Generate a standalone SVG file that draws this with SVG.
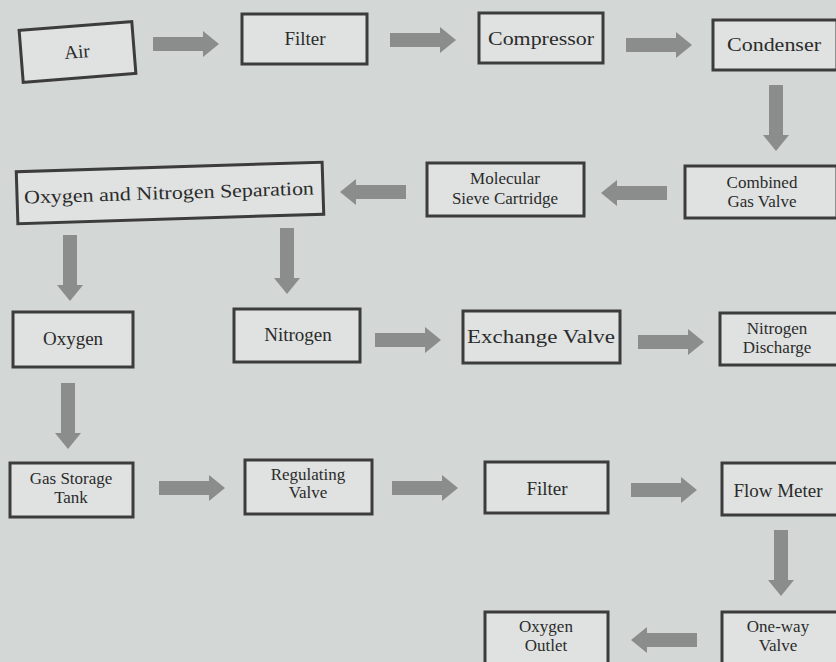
<svg xmlns="http://www.w3.org/2000/svg" width="836" height="662" viewBox="0 0 836 662">
<style>
.bg{fill:#d3d7d5}
.box{fill:#dfe2e1;stroke:#3c3c3c;stroke-width:3}
.t{font-family:"Liberation Serif","Times New Roman",serif;font-size:19px;fill:#2b2b2b;text-anchor:middle}
.t2{font-family:"Liberation Serif","Times New Roman",serif;font-size:17px;fill:#2b2b2b;text-anchor:middle}
.arr{fill:#8b8d8c}
</style>
<defs>
<path id="ar" class="arr" d="M0,-7 H50 V-13 L66,0 L50,13 V7 H0 Z"/>
</defs>
<rect class="bg" x="0" y="0" width="836" height="662"/>
<g id="connectors">
<use href="#ar" transform="translate(153,44)"/>
<use href="#ar" transform="translate(390,40)"/>
<use href="#ar" transform="translate(626,45)"/>
<use href="#ar" transform="translate(776,85) rotate(90)"/>
<use href="#ar" transform="translate(667,193) rotate(180)"/>
<use href="#ar" transform="translate(406,192) rotate(180)"/>
<use href="#ar" transform="translate(70,235) rotate(90)"/>
<use href="#ar" transform="translate(287,228) rotate(90)"/>
<use href="#ar" transform="translate(375,340)"/>
<use href="#ar" transform="translate(638,342)"/>
<use href="#ar" transform="translate(68,383) rotate(90)"/>
<use href="#ar" transform="translate(159,488)"/>
<use href="#ar" transform="translate(392,488)"/>
<use href="#ar" transform="translate(631,490)"/>
<use href="#ar" transform="translate(781,530) rotate(90)"/>
<use href="#ar" transform="translate(697,640) rotate(180)"/>
</g>
<g id="air" transform="rotate(-4.5 77 52)">
<rect class="box" x="21" y="26" width="113" height="52"/>
<text class="t" x="77" y="58">Air</text>
</g>
<g id="filter1">
<rect class="box" x="242" y="14" width="125" height="50"/>
<text class="t" x="305" y="45">Filter</text>
</g>
<g id="compressor">
<rect class="box" x="479" y="13" width="124" height="50"/>
<text class="t" x="541" y="45" textLength="106" lengthAdjust="spacingAndGlyphs">Compressor</text>
</g>
<g id="condenser">
<rect class="box" x="713" y="20" width="124" height="50"/>
<text class="t" x="774" y="51" textLength="94" lengthAdjust="spacingAndGlyphs">Condenser</text>
</g>
<g id="combined">
<rect class="box" x="685" y="166" width="152" height="52"/>
<text class="t2" x="762" y="188">Combined</text>
<text class="t2" x="762" y="207">Gas Valve</text>
</g>
<g id="molecular">
<rect class="box" x="427" y="163" width="157" height="53"/>
<text class="t2" x="505" y="184">Molecular</text>
<text class="t2" x="505" y="204">Sieve Cartridge</text>
</g>
<g id="separation" transform="rotate(-1.8 170 193)">
<rect class="box" x="17" y="167" width="306" height="52"/>
<text class="t" x="169" y="199" textLength="290" lengthAdjust="spacingAndGlyphs">Oxygen and Nitrogen Separation</text>
</g>
<g id="oxygen">
<rect class="box" x="13" y="312" width="120" height="55"/>
<text class="t" x="73" y="345">Oxygen</text>
</g>
<g id="nitrogen">
<rect class="box" x="234" y="309" width="126" height="53"/>
<text class="t" x="298" y="341">Nitrogen</text>
</g>
<g id="exchange">
<rect class="box" x="463" y="311" width="157" height="52"/>
<text class="t" x="541" y="343" textLength="148" lengthAdjust="spacingAndGlyphs">Exchange Valve</text>
</g>
<g id="nitrogen-discharge">
<rect class="box" x="720" y="313" width="118" height="52"/>
<text class="t2" x="777" y="334">Nitrogen</text>
<text class="t2" x="777" y="353">Discharge</text>
</g>
<g id="gas-storage">
<rect class="box" x="10" y="463" width="123" height="54"/>
<text class="t2" x="71" y="484">Gas Storage</text>
<text class="t2" x="71" y="503">Tank</text>
</g>
<g id="regulating">
<rect class="box" x="245" y="460" width="127" height="54"/>
<text class="t2" x="308" y="480">Regulating</text>
<text class="t2" x="308" y="498">Valve</text>
</g>
<g id="filter2">
<rect class="box" x="485" y="462" width="123" height="51"/>
<text class="t" x="547" y="495">Filter</text>
</g>
<g id="flow-meter">
<rect class="box" x="722" y="463" width="116" height="52"/>
<text class="t" x="778" y="497">Flow Meter</text>
</g>
<g id="one-way">
<rect class="box" x="722" y="612" width="116" height="52"/>
<text class="t2" x="778" y="632">One-way</text>
<text class="t2" x="778" y="651">Valve</text>
</g>
<g id="oxygen-outlet">
<rect class="box" x="485" y="612" width="123" height="52"/>
<text class="t2" x="546" y="632">Oxygen</text>
<text class="t2" x="546" y="651">Outlet</text>
</g>
</svg>
